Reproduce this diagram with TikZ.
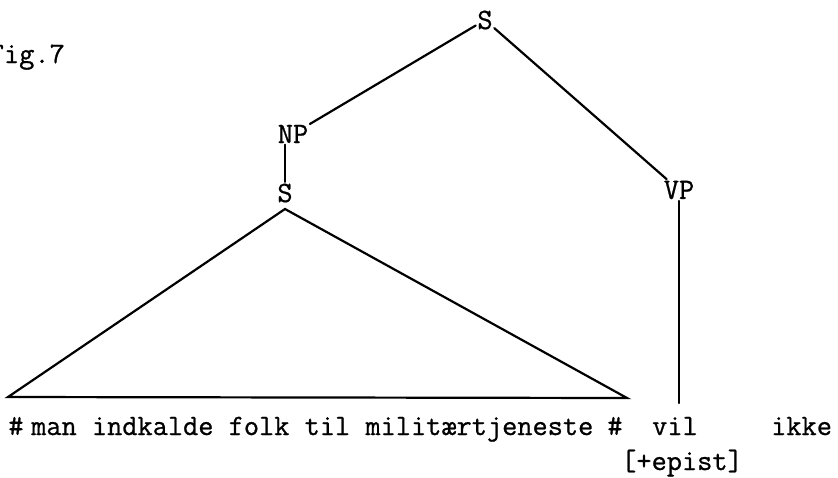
\documentclass[tikz,border=0pt]{standalone}
\usepackage{fontspec}
\newfontfamily\twfont{Latin Modern Mono}[FakeBold=0.8]
\begin{document}
\begin{tikzpicture}[x=1pt,y=-1pt,
  lbl/.style={font=\twfont\fontsize{29.5}{30}\selectfont, inner sep=1.5pt},
  txt/.style={font=\twfont\fontsize{29.5}{30}\selectfont, inner sep=0pt},
  edge/.style={line width=2.2pt, line cap=round}]
\useasboundingbox (0,0) rectangle (838,477);
\node[txt, anchor=base east] (fig) at (65,63) {Fig.7};
\node[lbl] (S1) at (485,20) {S};
\node[lbl] (NP) at (293,134) {NP};
\node[lbl] (S2) at (285,193) {S};
\node[lbl] (VP) at (679,190) {VP};
\coordinate (L) at (8,397);
\coordinate (R) at (627,398);
\coordinate (V) at (679,403);
\coordinate (apex) at (285,209);
\node[txt, anchor=base] (h1) at (16,435) {\#};
\node[txt, anchor=base west] (words) at (31,435) {man indkalde folk til militærtjeneste};
\node[txt, anchor=base] (h2) at (615,435) {\#};
\node[txt, anchor=base] (vil) at (675,435) {vil};
\node[txt, anchor=base west] (ikke) at (771,435) {ikke};
\node[txt, anchor=base] (epist) at (682,470) {[+epist]};
\draw[edge] (S1) -- (NP);
\draw[edge] (S1) -- (VP);
\draw[edge] (S2.north |- NP.south) -- (S2.north);
\draw[edge] (L) -- (apex) -- (R) -- cycle;
\draw[edge] (VP.south) -- (VP.south |- V);
\end{tikzpicture}
\end{document}
